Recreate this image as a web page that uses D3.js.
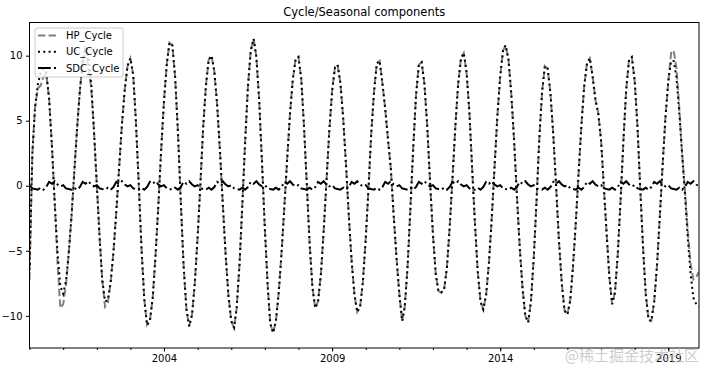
<!DOCTYPE html>
<html lang="en">
<head>
    <meta charset="UTF-8">
    <title>Cycle/Seasonal components</title>
    <script src="https://d3js.org/d3.v7.min.js"></script>
    <style>
        body { margin: 0; background: #fff; }
        svg text { font-family: "DejaVu Sans", sans-serif; }
    </style>
</head>
<body>
<script>
    // monthly observations, first one is January 2000
    var startMonth = "2000-01";

    var ucCycle = [
        -6.5, 2.5, 6.0, 7.8, 8.7, 9.0, 8.7, 6.7, 3.0, -1.3, -5.2, -7.7,
        -8.3, -7.3, -5.3, -2.4, 1.0, 4.4, 7.3, 9.5, 10.4, 10.0, 7.9, 4.3,
        0.1, -4.0, -7.2, -8.9, -8.8, -7.4, -5.1, -2.0, 1.4, 4.7, 7.4, 9.2,
        9.8, 8.5, 5.1, 0.3, -4.7, -8.7, -10.7, -10.4, -8.6, -5.4, -1.5, 2.7,
        6.5, 9.4, 11.0, 10.8, 8.4, 4.1, -1.1, -6.1, -9.5, -10.8, -9.9, -7.5,
        -3.9, 0.3, 4.4, 7.7, 9.7, 10.0, 8.8, 6.2, 2.6, -1.4, -5.3, -8.4,
        -10.4, -10.9, -9.4, -6.0, -1.5, 3.4, 7.6, 10.4, 11.3, 9.9, 6.5, 1.8,
        -3.3, -7.7, -10.6, -11.3, -10.4, -8.2, -5.2, -1.6, 2.1, 5.5, 8.2, 9.7,
        9.9, 8.2, 4.6, 0.1, -4.4, -7.8, -9.4, -8.9, -6.8, -3.5, 0.4, 4.2,
        7.3, 9.1, 9.3, 7.9, 5.2, 1.6, -2.3, -5.8, -8.4, -9.7, -9.3, -7.4,
        -4.1, -0.1, 3.9, 7.2, 9.4, 9.6, 7.9, 5.9, 3.5, 1.3, -2.3, -5.5,
        -8.3, -10.4, -9.3, -6.2, -1.8, 2.9, 6.9, 9.3, 9.5, 7.8, 4.5, 0.3,
        -3.7, -6.8, -8.1, -8.2, -8.0, -6.3, -3.2, 0.6, 4.6, 7.8, 9.8, 10.2,
        8.7, 5.6, 1.5, -2.8, -6.5, -8.9, -9.5, -8.4, -5.9, -2.5, 1.5, 5.3,
        8.4, 10.4, 10.8, 9.7, 7.1, 3.5, -0.7, -4.7, -7.9, -10.0, -10.5, -8.9,
        -5.5, -1.0, 3.5, 7.2, 9.2, 9.0, 7.1, 3.9, -0.1, -4.2, -7.5, -9.6,
        -9.9, -8.8, -6.3, -2.9, 0.9, 4.6, 7.6, 9.4, 9.8, 8.4, 6.6, 5.6,
        3.5, -0.2, -3.5, -7.0, -9.1, -8.2, -5.3, -1.1, 3.5, 7.4, 9.7, 9.9,
        8.1, 4.5, 0.0, -4.6, -8.3, -10.3, -10.4, -8.9, -6.1, -2.4, 1.6, 5.2,
        8.0, 9.6, 9.6, 8.3, 5.6, 2.4, -0.6, -4.0, -6.8, -8.6, -9.1, -9.3
    ];

    var hpCycle = [
        -7.2, 2.5, 6.0, 7.5, 7.7, 8.4, 8.6, 6.7, 3.0, -1.3, -6.0, -9.4,
        -9.1, -7.6, -5.3, -2.4, 1.0, 4.4, 7.3, 9.5, 10.8, 9.0, 7.6, 4.3,
        0.1, -4.0, -7.2, -9.3, -9.0, -7.4, -5.1, -2.0, 1.4, 4.7, 7.4, 9.2,
        9.8, 8.5, 5.1, 0.3, -4.7, -8.7, -10.7, -10.4, -8.6, -5.4, -1.5, 2.7,
        6.5, 9.4, 11.0, 10.8, 8.4, 4.1, -1.1, -6.1, -9.5, -10.8, -9.9, -7.5,
        -3.9, 0.3, 4.4, 7.7, 9.7, 10.0, 8.8, 6.2, 2.6, -1.4, -5.3, -8.4,
        -10.4, -10.9, -9.4, -6.0, -1.5, 3.4, 7.6, 10.4, 11.3, 9.9, 6.5, 1.8,
        -3.3, -7.7, -10.6, -11.3, -10.4, -8.2, -5.2, -1.6, 2.1, 5.5, 8.2, 9.7,
        9.9, 8.2, 4.6, 0.1, -4.4, -7.8, -9.4, -8.9, -6.8, -3.5, 0.4, 4.2,
        7.3, 9.1, 9.3, 7.9, 5.2, 1.6, -2.3, -5.8, -8.4, -9.7, -9.3, -7.4,
        -4.1, -0.1, 3.9, 7.2, 9.4, 9.6, 7.9, 5.9, 3.5, 1.3, -2.3, -5.5,
        -8.3, -10.4, -9.3, -6.2, -1.8, 2.9, 6.9, 9.3, 9.5, 7.8, 4.5, 0.3,
        -3.7, -6.8, -8.1, -8.2, -8.0, -6.3, -3.2, 0.6, 4.6, 7.8, 9.8, 10.2,
        8.7, 5.6, 1.5, -2.8, -6.5, -8.9, -9.5, -8.4, -5.9, -2.5, 1.5, 5.3,
        8.4, 10.4, 10.8, 9.7, 7.1, 3.5, -0.7, -4.7, -7.9, -10.0, -10.5, -8.9,
        -5.5, -1.0, 3.5, 7.2, 9.2, 9.0, 7.1, 3.9, -0.1, -4.2, -7.5, -9.6,
        -9.9, -8.8, -6.3, -2.9, 0.9, 4.6, 7.6, 9.4, 9.8, 8.4, 6.6, 5.6,
        3.5, -0.2, -3.5, -7.0, -9.1, -8.2, -5.3, -1.1, 3.5, 7.4, 9.7, 9.9,
        8.1, 4.5, 0.0, -4.6, -8.3, -10.3, -10.4, -8.9, -6.1, -2.4, 1.6, 5.2,
        8.0, 10.2, 10.4, 9.0, 6.0, 2.4, -0.3, -3.5, -6.0, -7.2, -7.0, -6.6
    ];

    var sdcCycle = [
        0.05, -0.2, -0.25, -0.3, -0.15, -0.3, -0.1, 0.3, 0.15, 0.35, 0.1, -0.05,
        0.05, -0.2, -0.25, -0.3, -0.15, -0.3, -0.1, 0.3, 0.15, 0.35, 0.1, -0.05,
        0.05, -0.2, -0.25, -0.3, -0.15, -0.3, -0.1, 0.3, 0.15, 0.35, 0.1, -0.05,
        0.05, -0.2, -0.25, -0.3, -0.15, -0.3, -0.1, 0.3, 0.15, 0.35, 0.1, -0.05,
        0.05, -0.2, -0.25, -0.3, -0.15, -0.3, -0.1, 0.3, 0.15, 0.35, 0.1, -0.05,
        0.05, -0.2, -0.25, -0.3, -0.15, -0.3, -0.1, 0.3, 0.15, 0.35, 0.1, -0.05,
        0.05, -0.2, -0.25, -0.3, -0.15, -0.3, -0.1, 0.3, 0.15, 0.35, 0.1, -0.05,
        0.05, -0.2, -0.25, -0.3, -0.15, -0.3, -0.1, 0.3, 0.15, 0.35, 0.1, -0.05,
        0.05, -0.2, -0.25, -0.3, -0.15, -0.3, -0.1, 0.3, 0.15, 0.35, 0.1, -0.05,
        0.05, -0.2, -0.25, -0.3, -0.15, -0.3, -0.1, 0.3, 0.15, 0.35, 0.1, -0.05,
        0.05, -0.2, -0.25, -0.3, -0.15, -0.3, -0.1, 0.3, 0.15, 0.35, 0.1, -0.05,
        0.05, -0.2, -0.25, -0.3, -0.15, -0.3, -0.1, 0.3, 0.15, 0.35, 0.1, -0.05,
        0.05, -0.2, -0.25, -0.3, -0.15, -0.3, -0.1, 0.3, 0.15, 0.35, 0.1, -0.05,
        0.05, -0.2, -0.25, -0.3, -0.15, -0.3, -0.1, 0.3, 0.15, 0.35, 0.1, -0.05,
        0.05, -0.2, -0.25, -0.3, -0.15, -0.3, -0.1, 0.3, 0.15, 0.35, 0.1, -0.05,
        0.05, -0.2, -0.25, -0.3, -0.15, -0.3, -0.1, 0.3, 0.15, 0.35, 0.1, -0.05,
        0.05, -0.2, -0.25, -0.3, -0.15, -0.3, -0.1, 0.3, 0.15, 0.35, 0.1, -0.05,
        0.05, -0.2, -0.25, -0.3, -0.15, -0.3, -0.1, 0.3, 0.15, 0.35, 0.1, -0.05,
        0.05, -0.2, -0.25, -0.3, -0.15, -0.3, -0.1, 0.3, 0.15, 0.35, 0.1, -0.05,
        0.05, -0.2, -0.25, -0.3, -0.15, -0.3, -0.1, 0.3, 0.15, 0.35, 0.1, -0.05
    ];

    var seriesNames = ["HP_Cycle", "UC_Cycle", "SDC_Cycle"];
    var yTicks = [-10, -5, 0, 5, 10];
    var majorYears = [2004, 2009, 2014, 2019];
    var chartTitle = "Cycle/Seasonal components";

    var w = 705;
    var h = 367;
    var plotLeft = 29.5, plotRight = 699, plotTop = 22.5, plotBottom = 348;

    var parseMonth = d3.timeParse("%Y-%m");
    var dates = ucCycle.map(function(d, i) {
        return d3.timeMonth.offset(parseMonth(startMonth), i);
    });

    var xScale = d3.scaleTime()
        .domain([dates[0], dates[dates.length - 1]])
        .range([plotLeft, plotRight]);

    var yScale = d3.scaleLinear()
        .domain([-12.47, 12.55])
        .range([plotBottom, plotTop]);

    var svg = d3.select("body")
        .append("svg")
        .attr("width", w)
        .attr("height", h);

    svg.append("defs").append("clipPath")
        .attr("id", "plot-clip")
        .append("rect")
        .attr("x", plotLeft)
        .attr("y", plotTop)
        .attr("width", plotRight - plotLeft)
        .attr("height", plotBottom - plotTop);

    // title
    svg.append("text")
        .attr("x", (plotLeft + plotRight) / 2)
        .attr("y", 16)
        .attr("text-anchor", "middle")
        .attr("font-size", "11.5px")
        .attr("fill", "#000")
        .text(chartTitle);

    // minor yearly ticks
    svg.append("g")
        .attr("transform", "translate(0," + plotBottom + ")")
        .call(d3.axisBottom(xScale)
            .ticks(d3.timeYear.every(1))
            .tickSize(2)
            .tickFormat(""))
        .call(function(g) { g.select(".domain").remove(); });

    // major ticks with labels
    var xAxis = svg.append("g")
        .attr("transform", "translate(0," + plotBottom + ")")
        .call(d3.axisBottom(xScale)
            .tickValues(majorYears.map(function(y) { return new Date(y, 0, 1); }))
            .tickSize(3.5)
            .tickPadding(3.5)
            .tickFormat(d3.timeFormat("%Y")));
    xAxis.select(".domain").remove();
    xAxis.selectAll("text")
        .attr("font-size", "10px")
        .attr("font-family", "DejaVu Sans, sans-serif")
        .attr("fill", "#000");

    var yAxis = svg.append("g")
        .attr("transform", "translate(" + plotLeft + ",0)")
        .call(d3.axisLeft(yScale)
            .tickValues(yTicks)
            .tickSize(3.5)
            .tickPadding(3.5)
            .tickFormat(function(d) { return d < 0 ? "\u2212" + Math.abs(d) : d; }));
    yAxis.select(".domain").remove();
    yAxis.selectAll("text")
        .attr("font-size", "10px")
        .attr("font-family", "DejaVu Sans, sans-serif")
        .attr("fill", "#000");

    // lines
    var line = d3.line()
        .x(function(d, i) { return xScale(dates[i]); })
        .y(function(d) { return yScale(d); });

    var styles = [
        { data: hpCycle, color: "#808080", dash: "7.4,3.2" },
        { data: ucCycle, color: "#000", dash: "2,3.3" },
        { data: sdcCycle, color: "#000", dash: "12.8,3.2,2,3.2" }
    ];

    var plot = svg.append("g").attr("clip-path", "url(#plot-clip)");
    plot.selectAll("path")
        .data(styles)
        .enter()
        .append("path")
        .attr("d", function(d) { return line(d.data); })
        .attr("fill", "none")
        .attr("stroke", function(d) { return d.color; })
        .attr("stroke-width", 2)
        .attr("stroke-dasharray", function(d) { return d.dash; });

    // frame
    svg.append("rect")
        .attr("x", plotLeft)
        .attr("y", plotTop)
        .attr("width", plotRight - plotLeft)
        .attr("height", plotBottom - plotTop)
        .attr("fill", "none")
        .attr("stroke", "#000")
        .attr("stroke-width", 1);

    // legend
    var legend = svg.append("g").attr("transform", "translate(35,28)");
    legend.append("rect")
        .attr("width", 88)
        .attr("height", 49)
        .attr("rx", 2)
        .attr("fill", "#fff")
        .attr("fill-opacity", 0.8)
        .attr("stroke", "#ccc")
        .attr("stroke-width", 1);

    var items = legend.selectAll("g.item")
        .data(styles)
        .enter()
        .append("g")
        .attr("class", "item")
        .attr("transform", function(d, i) { return "translate(0," + (7.5 + i * 16.2) + ")"; });

    items.append("line")
        .attr("x1", 3)
        .attr("x2", 23)
        .attr("stroke", function(d) { return d.color; })
        .attr("stroke-width", 2)
        .attr("stroke-dasharray", function(d) { return d.dash; });

    items.append("text")
        .attr("x", 31)
        .attr("y", 3.6)
        .attr("font-size", "10px")
        .attr("fill", "#000")
        .text(function(d, i) { return seriesNames[i]; });

    // watermark
    svg.append("text")
        .attr("x", 699)
        .attr("y", 361)
        .attr("text-anchor", "end")
        .attr("font-size", "15px")
        .style("font-family", "'Noto Sans CJK SC', sans-serif")
        .attr("fill", "#bbb")
        .attr("fill-opacity", 0.75)
        .text("@稀土掘金技术社区");
</script>
</body>
</html>
